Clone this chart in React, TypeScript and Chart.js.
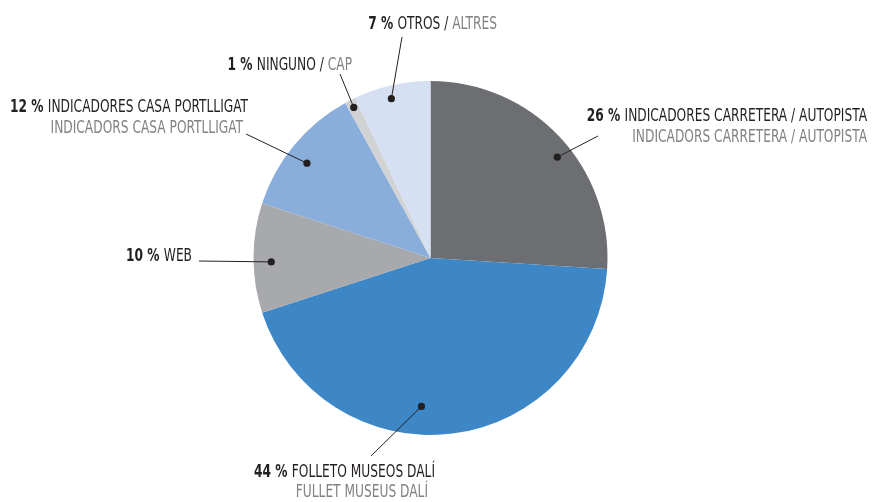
import React, { useEffect, useRef } from "react";
import { Chart, registerables } from "chart.js";

Chart.register(...registerables);

const pcts = ["26 %", "44 %", "10 %", "12 %", "1 %", "7 %"];
const values = [26, 44, 10, 12, 1, 7];
const namesEs = ["INDICADORES CARRETERA / AUTOPISTA", "FOLLETO MUSEOS DALÍ", "WEB", "INDICADORES CASA PORTLLIGAT", "NINGUNO", "OTROS"];
const namesCa = ["INDICADORS CARRETERA / AUTOPISTA", "FULLET MUSEUS DALÍ", "", "INDICADORS CASA PORTLLIGAT", "CAP", "ALTRES"];
const colors = ["#6d6e71", "#3d87c7", "#a7a9ac", "#8aaedc", "#d1d2d4", "#d5e0f2"];

// layout of annotations (not data)
const dotAngleOffsetDeg = [4.7, 10.7, -1.4, -2.1, 0, -1.2];
const dotRadiusFrac = [0.915, 0.84, 0.9, 0.88, 0.955, 0.927];
const leaderEnd = [[598, 136], [371, 456], [199, 261], [246, 134], [340, 74], [402, 37]];
const labelLayout = [
  { inline: false, right1: 867, right2: 867, y1: 121, y2: 142 },
  { inline: false, right1: 435, right2: 428, y1: 477, y2: 497 },
  { inline: true, right1: 192, y1: 261 },
  { inline: false, right1: 248, right2: 243, y1: 112, y2: 133 },
  { inline: true, right1: 352, y1: 70 },
  { inline: true, right1: 497, y1: 29 },
];

const FAMILY = '"DejaVu Sans Condensed", "Liberation Sans Narrow", sans-serif';
const DARK = "#231f20";
const GREY = "#808285";
const FS = 18;
const SX = 0.755;

const labelPlugin = {
  id: "leaderLabels",
  afterDatasetsDraw(chart: any) {
    const ctx = chart.ctx;
    const meta = chart.getDatasetMeta(0);
    ctx.save();
    const drawText = (t: string, x: number, y: number) => {
      ctx.save();
      ctx.translate(x, y);
      ctx.scale(SX, 1);
      ctx.fillText(t, 0, 0);
      ctx.restore();
    };
    meta.data.forEach((arc: any, i: number) => {
      const p = arc.getProps(["x", "y", "startAngle", "endAngle", "outerRadius"], true);
      const mid = (p.startAngle + p.endAngle) / 2 + (dotAngleOffsetDeg[i] * Math.PI) / 180;
      const r = p.outerRadius * dotRadiusFrac[i];
      const dx = p.x + Math.cos(mid) * r;
      const dy = p.y + Math.sin(mid) * r;
      ctx.strokeStyle = DARK;
      ctx.lineWidth = 1;
      ctx.beginPath();
      ctx.moveTo(leaderEnd[i][0], leaderEnd[i][1]);
      ctx.lineTo(dx, dy);
      ctx.stroke();
      ctx.fillStyle = DARK;
      ctx.beginPath();
      ctx.arc(dx, dy, 3.6, 0, Math.PI * 2);
      ctx.fill();

      const L: any = labelLayout[i];
      ctx.textBaseline = "alphabetic";
      ctx.textAlign = "left";
      const bold = `bold ${FS}px ${FAMILY}`;
      const reg = `${FS}px ${FAMILY}`;
      const parts: [string, string, string][] = [];
      parts.push([pcts[i] + " ", bold, DARK]);
      parts.push([namesEs[i], reg, DARK]);
      if (L.inline && namesCa[i]) {
        parts.push([" / ", reg, DARK]);
        parts.push([namesCa[i], reg, GREY]);
      }
      let total = 0;
      parts.forEach(([t, f]) => {
        ctx.font = f;
        total += ctx.measureText(t).width * SX;
      });
      let x = L.right1 - total;
      parts.forEach(([t, f, c]) => {
        ctx.font = f;
        ctx.fillStyle = c;
        drawText(t, x, L.y1);
        x += ctx.measureText(t).width * SX;
      });
      if (!L.inline) {
        ctx.font = reg;
        ctx.fillStyle = GREY;
        const w = ctx.measureText(namesCa[i]).width * SX;
        drawText(namesCa[i], L.right2 - w, L.y2);
      }
    });
    ctx.restore();
  },
};

export default function App() {
  const ref = useRef<HTMLCanvasElement | null>(null);
  useEffect(() => {
    document.body.style.margin = "0";
    const chart = new Chart(ref.current as HTMLCanvasElement, {
      type: "pie",
      data: {
        labels: namesEs,
        datasets: [
          {
            data: values,
            backgroundColor: colors,
            borderWidth: 0,
          },
        ],
      },
      options: {
        responsive: false,
        animation: false,
        devicePixelRatio: 1,
        layout: { padding: { left: 253, right: 269, top: 81, bottom: 67 } },
        plugins: { legend: { display: false }, tooltip: { enabled: false } },
      },
      plugins: [labelPlugin],
    });
    return () => chart.destroy();
  }, []);
  return <canvas ref={ref} width={877} height={502} style={{ display: "block" }} />;
}
